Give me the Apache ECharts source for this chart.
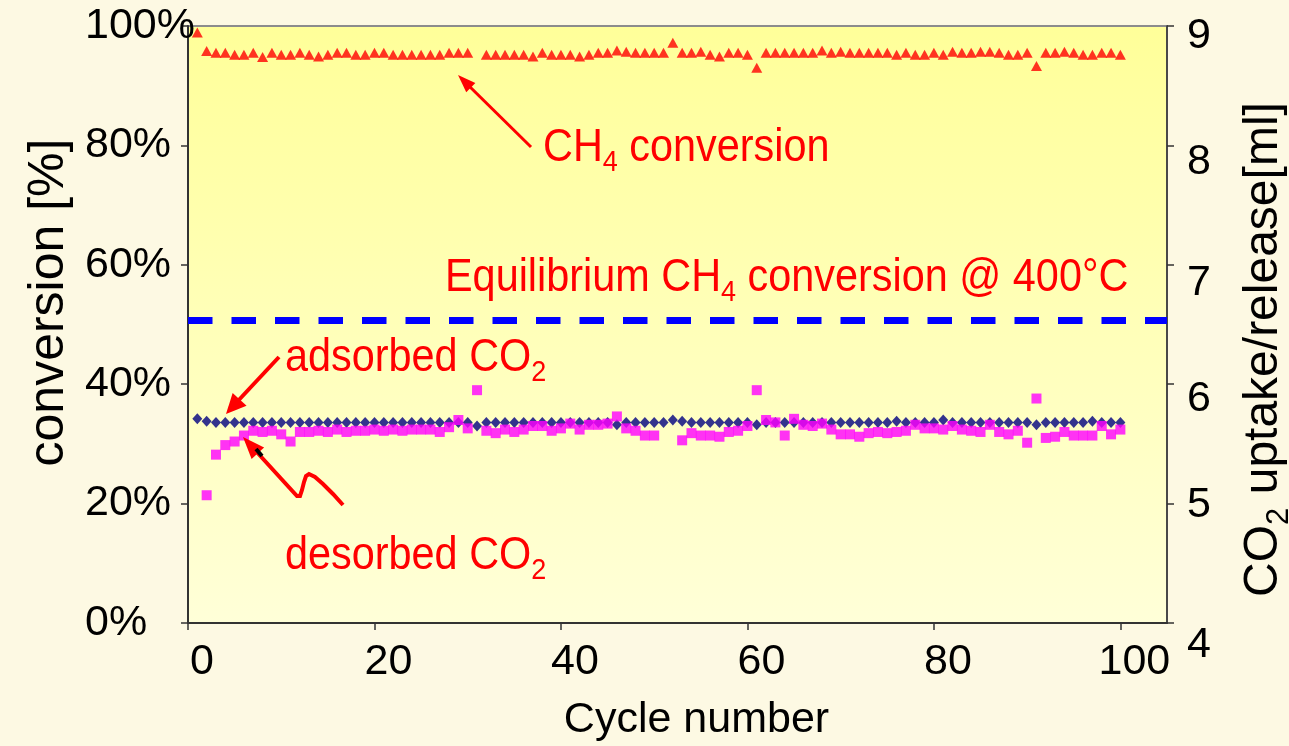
<!DOCTYPE html>
<html><head><meta charset="utf-8">
<script src="https://cdn.jsdelivr.net/npm/echarts@6/dist/echarts.min.js"></script>
<style>html,body{margin:0;padding:0;background:#FDF9E3;}#c{width:1289px;height:746px;}</style>
</head><body><div id="c"></div>
<script>
// ---- data ----
const cycles = Array.from({length: 100}, (_, i) => i + 1);
const ch4Conversion = [
 98.9,95.8,95.5,95.5,95.2,95.2,95.5,94.8,95.5,95.2,
 95.2,95.5,95.2,94.9,95.2,95.5,95.5,95.2,95.2,95.5,
 95.5,95.2,95.2,95.2,95.2,95.2,95.2,95.5,95.5,95.5,
 null,95.2,95.2,95.2,95.2,95.2,94.9,95.5,95.2,95.2,
 95.2,94.9,95.2,95.5,95.5,95.9,95.7,95.5,95.5,95.5,
 95.5,97.2,95.5,95.5,95.7,95.2,94.9,95.5,95.5,95.2,
 93.0,95.5,95.5,95.5,95.5,95.5,95.5,95.9,95.5,95.7,
 95.5,95.5,95.5,95.5,95.5,95.2,95.5,95.2,95.2,95.5,
 95.2,95.7,95.5,95.5,95.7,95.7,95.5,95.2,95.2,95.5,
 93.3,95.5,95.5,95.7,95.5,95.2,95.2,95.5,95.5,95.2];
const adsorbedCO2 = [
 5.71,5.69,5.68,5.68,5.68,5.68,5.68,5.68,5.68,5.68,
 5.68,5.68,5.68,5.68,5.68,5.68,5.68,5.68,5.68,5.68,
 5.68,5.68,5.68,5.68,5.68,5.68,5.68,5.68,5.68,5.68,
 5.65,5.68,5.68,5.68,5.68,5.68,5.68,5.68,5.68,5.68,
 5.68,5.68,5.68,5.68,5.68,5.66,5.68,5.68,5.68,5.68,
 5.68,5.70,5.69,5.68,5.68,5.68,5.68,5.68,5.68,5.68,
 5.66,5.68,5.68,5.68,5.68,5.68,5.68,5.68,5.68,5.68,
 5.68,5.68,5.68,5.68,5.68,5.69,5.68,5.68,5.68,5.68,
 5.70,5.68,5.68,5.68,5.68,5.68,5.68,5.68,5.68,5.68,
 5.66,5.68,5.68,5.68,5.68,5.68,5.69,5.68,5.68,5.68];
const desorbedCO2 = [
 null,5.07,5.41,5.49,5.52,5.57,5.61,5.60,5.61,5.58,
 5.52,5.60,5.60,5.61,5.60,5.62,5.60,5.61,5.61,5.62,
 5.61,5.62,5.61,5.62,5.62,5.62,5.60,5.64,5.70,5.63,
 5.95,5.61,5.59,5.62,5.60,5.62,5.65,5.65,5.61,5.63,
 5.67,5.62,5.66,5.66,5.67,5.73,5.63,5.61,5.57,5.57,
 null,null,5.53,5.59,5.57,5.57,5.56,5.60,5.61,5.65,
 5.95,5.70,5.68,5.57,5.71,5.66,5.65,5.67,5.62,5.58,
 5.58,5.56,5.59,5.60,5.59,5.60,5.61,5.66,5.63,5.63,
 5.62,5.65,5.62,5.61,5.60,5.66,5.60,5.58,5.61,5.51,
 5.88,5.55,5.56,5.60,5.57,5.57,5.57,5.65,5.58,5.62];
const equilibriumCH4 = 50.7;
const xTicks = [0, 20, 40, 60, 80, 100];

// ---- chart ----
const FF = 'Liberation Sans';
const chart = echarts.init(document.getElementById('c'), null, {renderer: 'canvas'});
const pair = arr => cycles.map((c, i) => [c, arr[i]]);
const red = '#FF0000';
const rt = (fs) => ({
  n: {fontSize: fs, lineHeight: 60, fontFamily: FF, fill: red},
  s: {fontSize: Math.round(fs * 0.65), lineHeight: 30, fontFamily: FF, fill: red, verticalAlign: 'bottom'}
});
function head(tx, ty, fx, fy, L, W) {
  const dx = tx - fx, dy = ty - fy, d = Math.hypot(dx, dy), ux = dx / d, uy = dy / d;
  const bx = tx - ux * L, by = ty - uy * L;
  return [[tx, ty], [bx - uy * W / 2, by + ux * W / 2], [bx + uy * W / 2, by - ux * W / 2]];
}
const rOff = {9: 20, 8: 34, 7: 36, 6: 30, 5: 4, 4: 44};
const rightRich = {};
Object.keys(rOff).forEach(k => { rightRich['r' + k] = {padding: [rOff[k], 0, 0, 0], fontSize: 43, fontFamily: FF, color: '#000'}; });

chart.setOption({
  animation: false,
  backgroundColor: '#FDF9E3',
  textStyle: {fontFamily: FF},
  grid: {
    left: 188, right: 122, top: 26, bottom: 123, show: true, containLabel: false, outerBoundsMode: 'none',
    borderColor: '#8c8c8c', borderWidth: 2,
    backgroundColor: {type: 'linear', x: 0, y: 0, x2: 0, y2: 1,
      colorStops: [{offset: 0, color: '#FFFF99'}, {offset: 1, color: '#FFFFD8'}]}
  },
  xAxis: {
    type: 'value', min: 0, max: 105, interval: 20,
    name: 'Cycle number', nameLocation: 'middle', nameGap: 76,
    nameTextStyle: {fontSize: 43, color: '#000', fontFamily: FF, padding: [0, 0, 0, 38]},
    axisLine: {lineStyle: {color: '#333', width: 2}},
    axisTick: {length: 7, lineStyle: {color: '#333', width: 1.5}, customValues: xTicks},
    axisLabel: {fontSize: 43, color: '#000', margin: 18, customValues: xTicks, padding: [0, 0, 0, 28]},
    splitLine: {show: false}
  },
  yAxis: [{
    type: 'value', min: 0, max: 100, interval: 20, position: 'left',
    name: 'conversion [%]', nameLocation: 'middle', nameGap: 106, nameRotate: 90,
    nameTextStyle: {fontSize: 50, color: '#000', fontFamily: FF, padding: [0, 0, 0, 44]},
    axisLine: {show: true, lineStyle: {color: '#333', width: 2}},
    axisTick: {show: true, length: 7, lineStyle: {color: '#333', width: 1.5}},
    axisLabel: {fontSize: 43, color: '#000', formatter: '{value}%', align: 'left', margin: 103},
    splitLine: {show: false}
  }, {
    type: 'value', min: 4, max: 9, interval: 1, position: 'right',
    name: '{n|CO}{s|2}{n| uptake/release[ml]}', nameLocation: 'middle', nameGap: 66, nameRotate: 90,
    nameTextStyle: {color: '#000', padding: [0, 50, 0, 0], rich: {
      n: {fontSize: 48, lineHeight: 62, fontFamily: FF, color: '#000'},
      s: {fontSize: 31, lineHeight: 30, fontFamily: FF, color: '#000', verticalAlign: 'bottom'}}},
    axisLine: {show: true, lineStyle: {color: '#333', width: 1.5}},
    axisTick: {show: true, length: 7, lineStyle: {color: '#333', width: 1.5}},
    axisLabel: {fontSize: 43, color: '#000', margin: 20, formatter: v => '{r' + v + '|' + v + '}', rich: rightRich},
    splitLine: {show: false}
  }],
  series: [{
    name: 'CH4 conversion', type: 'scatter', yAxisIndex: 0, data: pair(ch4Conversion),
    symbol: 'triangle', symbolSize: [11, 10], itemStyle: {color: '#FF0000'},
    markLine: {silent: true, symbol: ['none', 'none'], label: {show: false},
      lineStyle: {color: '#0000FF', width: 7, type: [24.5, 19]},
      data: [{yAxis: equilibriumCH4}]}
  }, {
    name: 'adsorbed CO2', type: 'scatter', yAxisIndex: 1, data: pair(adsorbedCO2),
    symbol: 'diamond', symbolSize: [10, 11], itemStyle: {color: '#000080'}
  }, {
    name: 'desorbed CO2', type: 'scatter', yAxisIndex: 1, data: pair(desorbedCO2),
    symbol: 'rect', symbolSize: 10, itemStyle: {color: '#FF00FF'}
  }],
  graphic: [
    {type: 'text', x: 543, y: 148, scaleX: 0.9, z: 10,
      style: {text: '{n|CH}{s|4}{n| conversion}', rich: rt(46), fill: red, verticalAlign: 'middle', align: 'left'}},
    {type: 'text', x: 445, y: 278, scaleX: 0.9, z: 10,
      style: {text: '{n|Equilibrium CH}{s|4}{n| conversion @ 400°C}', rich: rt(46), fill: red, verticalAlign: 'middle', align: 'left'}},
    {type: 'text', x: 285, y: 358, scaleX: 0.9, z: 10,
      style: {text: '{n|adsorbed CO}{s|2}', rich: rt(46), fill: red, verticalAlign: 'middle', align: 'left'}},
    {type: 'text', x: 285, y: 556, scaleX: 0.9, z: 10,
      style: {text: '{n|desorbed CO}{s|2}', rich: rt(46), fill: red, verticalAlign: 'middle', align: 'left'}},
    {type: 'line', z: 10, shape: {x1: 531, y1: 147, x2: 466, y2: 83}, style: {stroke: red, lineWidth: 3}},
    {type: 'polygon', z: 10, shape: {points: head(458, 75, 531, 147, 18, 13)}, style: {fill: red}},
    {type: 'line', z: 10, shape: {x1: 279, y1: 357, x2: 236, y2: 403}, style: {stroke: red, lineWidth: 4}},
    {type: 'polygon', z: 10, shape: {points: head(226, 414, 279, 357, 20, 19)}, style: {fill: red}},
    {type: 'polyline', z: 10, shape: {points: [[343,505],[333,494],[323,484],[315,477],[309,474],[306,476],[304,482],[302,490],[300,496],[297,496],[254,449]]},
      style: {stroke: red, lineWidth: 4, fill: null}},
    {type: 'polygon', z: 10, shape: {points: head(243, 437, 297, 496, 22, 17)}, style: {fill: red}},
    {type: 'line', z: 11, shape: {x1: 256, y1: 449, x2: 262, y2: 456}, style: {stroke: '#000', lineWidth: 4}}
  ]
});
</script></body></html>
